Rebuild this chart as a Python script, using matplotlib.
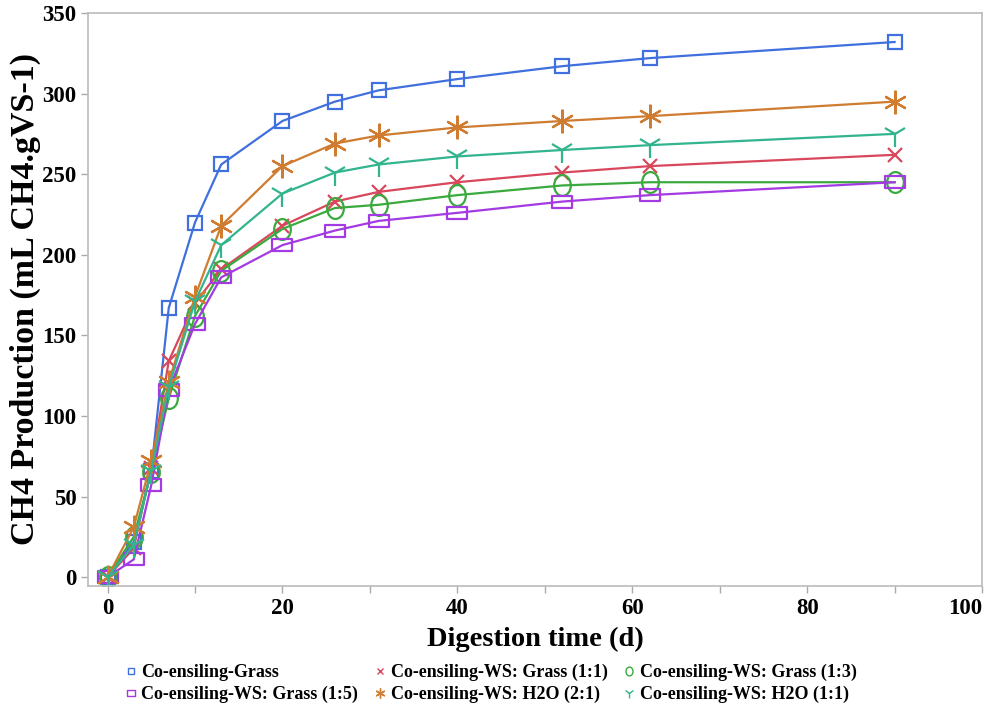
import matplotlib
matplotlib.use("Agg")
import matplotlib.pyplot as plt
import matplotlib.transforms as mtransforms
from matplotlib.path import Path
from matplotlib.ticker import MultipleLocator

# digestion time (d)
days = [0, 3, 5, 7, 10, 13, 20, 26, 31, 40, 52, 62, 90]

# cumulative CH4 production (mL CH4.gVS-1)
grass = [0, 22, 66, 167, 220, 256, 283, 295, 302, 309, 317, 322, 332]
ws_grass_1_1 = [0, 18, 68, 134, 170, 191, 218, 233, 239, 245, 251, 255, 262]
ws_grass_1_3 = [0, 25, 65, 111, 162, 190, 216, 229, 231, 237, 243, 245, 245]
ws_grass_1_5 = [0, 11, 57, 116, 157, 186, 206, 215, 221, 226, 233, 237, 245]
ws_h2o_2_1 = [0, 31, 72, 121, 174, 218, 255, 269, 274, 279, 283, 286, 295]
ws_h2o_1_1 = [0, 20, 66, 118, 171, 206, 238, 251, 256, 261, 265, 268, 275]

labels = ["Co-ensiling-Grass",
          "Co-ensiling-WS: Grass (1:1)",
          "Co-ensiling-WS: Grass (1:3)",
          "Co-ensiling-WS: Grass (1:5)",
          "Co-ensiling-WS: H2O (2:1)",
          "Co-ensiling-WS: H2O (1:1)"]

x_ticks = [0, 20, 40, 60, 80, 100]

plt.rcParams['font.family'] = ['Liberation Serif', 'DejaVu Serif']
plt.rcParams['font.weight'] = 'bold'

# marker shapes
wide_rect = Path([(-1, -0.6), (1, -0.6), (1, 0.6), (-1, 0.6), (-1, -0.6)],
                 [Path.MOVETO, Path.LINETO, Path.LINETO, Path.LINETO, Path.CLOSEPOLY])
tall_oval = Path.unit_circle().transformed(mtransforms.Affine2D().scale(0.8, 1.0))

styles = [
  dict(color='#4070DE', marker='s', ms=10),
  dict(color='#D9475C', marker='x', ms=10),
  dict(color='#3AAA3F', marker=tall_oval, ms=15),
  dict(color='#A43AE2', marker=wide_rect, ms=15),
  dict(color='#CF7B30', marker=(6, 2, 0), ms=17),
  dict(color='#32B48E', marker='1', ms=18),
]
series = [grass, ws_grass_1_1, ws_grass_1_3, ws_grass_1_5, ws_h2o_2_1, ws_h2o_1_1]

fig = plt.figure(figsize=(9.92, 7.06), dpi=100)
ax = fig.add_axes([0.089, 0.17, 0.901, 0.8116])

handles = []
for vals, st, lab in zip(series, styles, labels):
  h, = ax.plot(days, vals, color=st['color'], linewidth=1.6, marker=st['marker'],
               markersize=st['ms'], markerfacecolor='none', markeredgecolor=st['color'],
               markeredgewidth=1.6, label=lab)
  handles.append(h)

ax.set_xlim(-2.2, 100)
ax.set_ylim(-5.5, 350)
ax.set_xticks(x_ticks, [str(v) for v in x_ticks])
ax.xaxis.set_minor_locator(MultipleLocator(10))
ax.yaxis.set_major_locator(MultipleLocator(50))
for s in ax.spines.values():
  s.set_color('#BBBBBB')
  s.set_linewidth(1.2)
ax.tick_params(which='both', direction='out', color='#AAAAAA', length=5, width=1,
               labelsize=16.5)
for t in ax.get_xticklabels() + ax.get_yticklabels():
  t.set_fontweight('bold')
# keep "100" inside the picture
ax.xaxis.get_major_ticks()[-1].label1.set_horizontalalignment('right')
ax.xaxis.get_major_ticks()[-1].label1.set_x(100)

ax.set_xlabel("Digestion time (d)", fontsize=20.5, fontweight='bold', labelpad=6)
ax.set_ylabel("CH4 Production (mL CH4.gVS-1)", fontsize=24.5, fontweight='bold', labelpad=1)

# legend fills column-wise, so reorder to get the row layout
order = [0, 3, 1, 4, 2, 5]
fig.legend([handles[i] for i in order], [labels[i] for i in order], ncol=3,
           loc='center', bbox_to_anchor=(0.495, 0.032), frameon=False,
           markerscale=0.42, handlelength=0.6, handletextpad=0.3, columnspacing=0.9,
           labelspacing=0.25, prop={'size': 13, 'weight': 'bold'})

# markers only in legend handles
leg = fig.legends[0]
for lh in leg.legend_handles:
  lh.set_linestyle('none')
  lh.set_markeredgewidth(1.0)

fig.savefig("out.png", dpi=100)
